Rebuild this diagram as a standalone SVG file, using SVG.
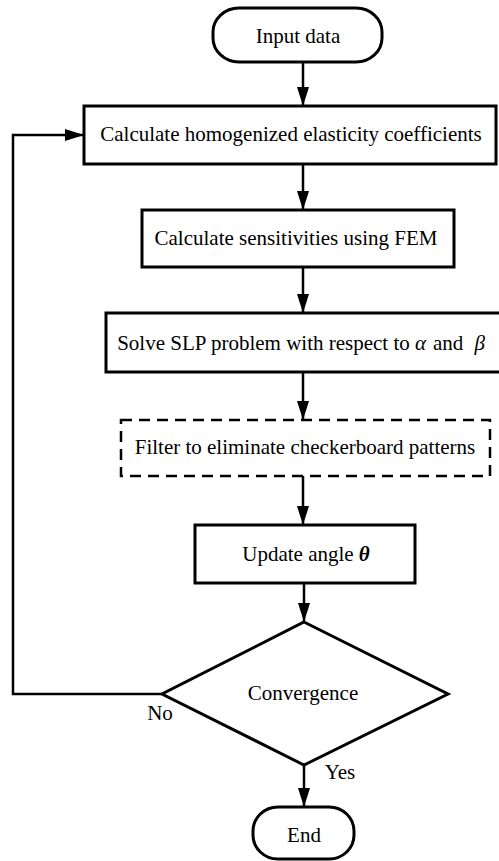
<svg xmlns="http://www.w3.org/2000/svg" width="499" height="861" viewBox="0 0 499 861">
<style>
.box{fill:#fff;stroke:#000;stroke-width:3}
.dash{fill:#fff;stroke:#000;stroke-width:2.5;stroke-dasharray:11 7}
.t{font-family:"Liberation Serif","Times New Roman",serif;font-size:21px;fill:#000;text-anchor:middle}
.g{font-style:italic}
.c{fill:none;stroke:#000;stroke-width:2.5}
</style>
<defs>
<marker id="ah" markerWidth="19" markerHeight="12" refX="19" refY="6" orient="auto" markerUnits="userSpaceOnUse" viewBox="0 0 19 12">
<path d="M0,0 L19,6 L0,12 Z" fill="#000"/>
</marker>
</defs>
<rect width="499" height="861" fill="#fff"/>
<g id="connectors">
<line class="c" x1="303" y1="62" x2="303" y2="106" marker-end="url(#ah)"/>
<line class="c" x1="303" y1="164" x2="303" y2="210" marker-end="url(#ah)"/>
<line class="c" x1="303" y1="267" x2="303" y2="313" marker-end="url(#ah)"/>
<line class="c" x1="303" y1="372" x2="303" y2="420" marker-end="url(#ah)"/>
<line class="c" x1="303" y1="476" x2="303" y2="525" marker-end="url(#ah)"/>
<line class="c" x1="304" y1="583" x2="304" y2="622" marker-end="url(#ah)"/>
<line class="c" x1="304" y1="765" x2="304" y2="807" marker-end="url(#ah)"/>
<polyline class="c" points="162,694 13,694 13,135 84,135" marker-end="url(#ah)"/>
<text class="t" x="160" y="720">No</text>
<text class="t" x="340" y="779">Yes</text>
</g>
<g id="start">
<rect class="box" x="213" y="8" width="169" height="54" rx="26" ry="24"/>
<text class="t" x="298" y="43">Input data</text>
</g>
<g id="homogenize">
<rect class="box" x="84" y="106" width="412" height="58"/>
<text class="t" x="291" y="141">Calculate homogenized elasticity coefficients</text>
</g>
<g id="sensitivities">
<rect class="box" x="142" y="210" width="312" height="57"/>
<text class="t" x="296" y="245">Calculate sensitivities using FEM</text>
</g>
<g id="slp">
<rect class="box" x="106" y="313" width="395" height="59"/>
<text class="t" x="301" y="350">Solve SLP problem with respect to <tspan class="g">α</tspan><tspan dx="7">and</tspan><tspan class="g" dx="11">β</tspan></text>
</g>
<g id="filter">
<rect class="dash" x="121" y="420" width="369" height="56"/>
<text class="t" x="305" y="454">Filter to eliminate checkerboard patterns</text>
</g>
<g id="update">
<rect class="box" x="195" y="525" width="220" height="58"/>
<text class="t" x="306" y="561">Update angle <tspan class="g" font-weight="bold">θ</tspan></text>
</g>
<g id="convergence">
<polygon class="box" points="304,622 448,694 304,765 162,694"/>
<text class="t" x="303" y="700">Convergence</text>
</g>
<g id="end">
<rect class="box" x="253" y="807" width="101" height="52" rx="25" ry="24"/>
<text class="t" x="304" y="842">End</text>
</g>
</svg>
